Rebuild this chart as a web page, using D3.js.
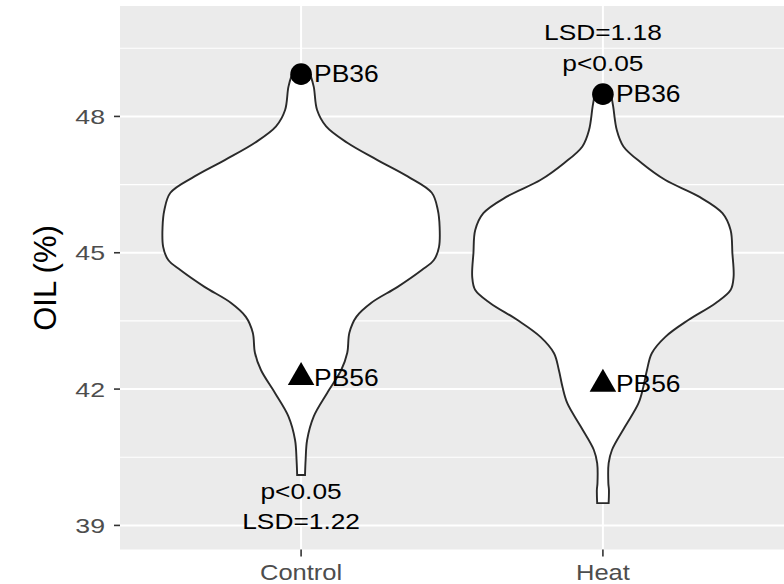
<html>
  <head>
    <style>
      body { margin: 0; background: #fff; }
      text { font-family: 'Liberation Sans', Arial, sans-serif; }
      .grid line { stroke: #fff; }
    </style>
  </head>
  <body>
    <div id="container"></div>
    <script src="https://cdn.jsdelivr.net/npm/d3@7"></script>
    <script>

    // values
    var categories = ["Control", "Heat"];
    var yTicks = [39, 42, 45, 48];
    var yMinor = [40.5, 43.5, 46.5, 49.5];

    // violin outline: oil value and half width (in category units)
    var controlOil   = [48.93, 48.65, 48.14, 47.78, 47.42, 47.04, 46.68, 46.32, 45.94, 45.57, 45.13, 44.84,
                        44.62, 44.25, 43.90, 43.59, 43.24, 42.80, 42.42, 41.92, 41.40, 40.88, 40.44, 40.11];
    var controlWidth = [0.030, 0.042, 0.053, 0.083, 0.153, 0.253, 0.353, 0.433, 0.453, 0.459, 0.457, 0.440,
                        0.400, 0.320, 0.233, 0.183, 0.160, 0.153, 0.133, 0.087, 0.042, 0.020, 0.015, 0.013];
    var heatOil      = [48.49, 48.22, 47.70, 47.34, 46.97, 46.60, 46.24, 45.87, 45.50, 44.99, 44.47, 44.18,
                        43.89, 43.52, 43.15, 42.79, 42.42, 42.05, 41.69, 41.17, 40.66, 40.37, 39.93, 39.78, 39.49];
    var heatWidth    = [0.027, 0.034, 0.046, 0.068, 0.129, 0.207, 0.317, 0.396, 0.423, 0.429, 0.433, 0.423,
                        0.373, 0.283, 0.207, 0.162, 0.146, 0.134, 0.118, 0.073, 0.030, 0.019, 0.018, 0.020, 0.019];

    var highName = ["PB36", "PB36"];
    var highOil  = [48.93, 48.49];
    var lowName  = ["PB56", "PB56"];
    var lowOil   = [42.26, 42.11];

    var statText = [["p<0.05", "LSD=1.22"], ["LSD=1.18", "p<0.05"]];
    var statOil  = [[39.75, 39.09], [49.85, 49.18]];

    var W = 784, H = 584;
    var panel = {left: 120, right: 784, top: 6, bottom: 549.5};

    var svg = d3.select("#container").append("svg")
        .attr("width", W)
        .attr("height", H);

    var x = d3.scaleLinear()
        .domain([0.4, 2.6])
        .range([panel.left, panel.right]);
    var unit = x(1) - x(0);

    var y = d3.scaleLinear()
        .domain([38.47, 50.43])
        .range([panel.bottom, panel.top]);

    svg.append("rect")
        .attr("x", panel.left)
        .attr("y", panel.top)
        .attr("width", panel.right - panel.left)
        .attr("height", panel.bottom - panel.top)
        .attr("fill", "#ebebeb");

    var grid = svg.append("g").attr("class", "grid");
    grid.selectAll(".minor").data(yMinor).enter().append("line")
        .attr("x1", panel.left).attr("x2", panel.right)
        .attr("y1", function(d) { return y(d); })
        .attr("y2", function(d) { return y(d); })
        .attr("stroke-width", 1.2);
    grid.selectAll(".major").data(yTicks).enter().append("line")
        .attr("x1", panel.left).attr("x2", panel.right)
        .attr("y1", function(d) { return y(d); })
        .attr("y2", function(d) { return y(d); })
        .attr("stroke-width", 2);
    grid.selectAll(".vert").data(categories).enter().append("line")
        .attr("x1", function(d, i) { return x(i + 1); })
        .attr("x2", function(d, i) { return x(i + 1); })
        .attr("y1", panel.top).attr("y2", panel.bottom)
        .attr("stroke-width", 2);

    // violins
    var outlines = [
      controlOil.map(function(v, i) { return {v: v, w: controlWidth[i]}; }),
      heatOil.map(function(v, i) { return {v: v, w: heatWidth[i]}; })
    ];

    outlines.forEach(function(pts, k) {
      var area = d3.area()
          .y(function(d) { return y(d.v); })
          .x0(function(d) { return x(k + 1) - d.w * unit; })
          .x1(function(d) { return x(k + 1) + d.w * unit; })
          .curve(d3.curveCatmullRom);
      svg.append("path")
          .attr("d", area(pts))
          .attr("fill", "#fff")
          .attr("stroke", "#2a2a2a")
          .attr("stroke-width", 1.9);
    });

    function label(g, tx, ty, str, size, sx, anchor, fill) {
      g.append("text")
          .attr("transform", "translate(" + tx + "," + ty + ") scale(" + sx + ",1)")
          .attr("dy", "0.36em")
          .attr("text-anchor", anchor)
          .attr("font-size", size)
          .attr("fill", fill)
          .text(str);
    }

    var marks = svg.append("g");

    categories.forEach(function(c, i) {
      marks.append("circle")
          .attr("cx", x(i + 1))
          .attr("cy", y(highOil[i]))
          .attr("r", 10.8)
          .attr("fill", "#000");
      marks.append("path")
          .attr("d", d3.symbol().type(d3.symbolTriangle).size(305)())
          .attr("transform", "translate(" + x(i + 1) + "," + y(lowOil[i]) + ")")
          .attr("fill", "#000");
      label(marks, x(i + 1) + 13, y(highOil[i]), highName[i], 23, 1.15, "start", "#000");
      label(marks, x(i + 1) + 13, y(lowOil[i]), lowName[i], 23, 1.15, "start", "#000");
      statText[i].forEach(function(s, j) {
        label(marks, x(i + 1), y(statOil[i][j]), s, 22.5, 1.17, "middle", "#000");
      });
    });

    // axes
    var yAxis = svg.append("g");
    yTicks.forEach(function(t) {
      yAxis.append("line")
          .attr("x1", panel.left - 6).attr("x2", panel.left)
          .attr("y1", y(t)).attr("y2", y(t))
          .attr("stroke", "#333").attr("stroke-width", 1.6);
      label(yAxis, 105, y(t), t, 21, 1.27, "end", "#4d4d4d");
    });

    var xAxis = svg.append("g");
    categories.forEach(function(c, i) {
      xAxis.append("line")
          .attr("x1", x(i + 1)).attr("x2", x(i + 1))
          .attr("y1", panel.bottom).attr("y2", panel.bottom + 7)
          .attr("stroke", "#333").attr("stroke-width", 1.6);
      label(xAxis, x(i + 1), 572, c, 22, 1.16, "middle", "#4d4d4d");
    });

    svg.append("text")
        .attr("transform", "translate(45,278) rotate(-90)")
        .attr("dy", "0.36em")
        .attr("text-anchor", "middle")
        .attr("font-size", 31)
        .attr("fill", "#000")
        .text("OIL (%)");

    </script>
  </body>
</html>
